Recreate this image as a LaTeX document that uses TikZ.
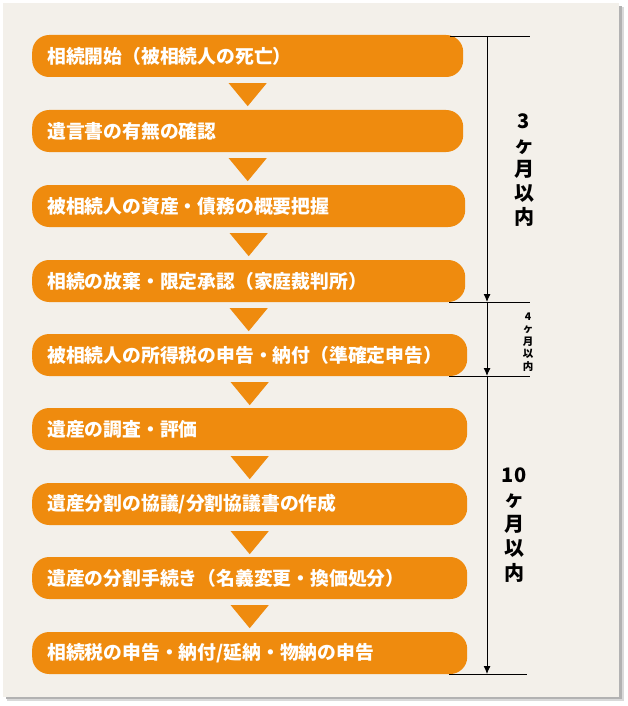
\documentclass[tikz,border=0pt]{standalone}
\usepackage{fontspec}
\newfontfamily\jp{Noto Sans CJK JP}
\usetikzlibrary{arrows.meta,calc}
\definecolor{orangebox}{HTML}{EF8B0E}
\definecolor{paper}{HTML}{F3F0EA}
\tikzset{
  flowbox/.style={fill=orangebox, rounded corners=17pt, minimum height=42pt,
    anchor=west, inner xsep=15pt, inner ysep=0pt, align=left, text=white,
    font=\jp\bfseries\fontsize{18.8pt}{20pt}\selectfont},
  flowarrow/.style={fill=orangebox},
  dimline/.style={draw=black, line width=0.9pt},
  dimarrow/.style={dimline, -{Latex[length=8pt,width=7pt]}},
  dimlabel/.style={align=center, text=black, inner sep=0pt},
}
\newcommand{\flowtri}[2]{%
  \fill[flowarrow] ($(#1.south)+(-19pt,-6pt)$) -- ($(#1.south)+(19pt,-6pt)$)
     -- ($(#1.south)+(0pt,-29pt)$) -- cycle;}
\begin{document}
\begin{tikzpicture}[x=1pt,y=-1pt]
  \useasboundingbox (0,0) rectangle (628,706);
  \fill[white] (0,0) rectangle (628,706);
  % paper with shadow
  \fill[black!15] (7,7) rectangle (624,701);
  \fill[black!30] (6,6) rectangle (622,699);
  \fill[paper] (3,3) rectangle (619,697);

  % boxes
  \node[flowbox, text width=401pt] (b1) at (32,56)  {相続開始（被相続人の死亡）};
  \node[flowbox, text width=401pt] (b2) at (32,131) {遺言書の有無の確認};
  \node[flowbox, text width=403pt] (b3) at (32,206) {被相続人の資産・債務の概要把握};
  \node[flowbox, text width=403pt] (b4) at (32,281) {相続の放棄・限定承認（家庭裁判所）};
  \node[flowbox, text width=405pt] (b5) at (32,355) {被相続人の所得税の申告・納付（準確定申告）};
  \node[flowbox, text width=405pt] (b6) at (32,429) {遺産の調査・評価};
  \node[flowbox, text width=405pt] (b7) at (32,504) {遺産分割の協議/分割協議書の作成};
  \node[flowbox, text width=405pt] (b8) at (32,578) {遺産の分割手続き（名義変更・換価処分）};
  \node[flowbox, text width=405pt] (b9) at (32,653) {相続税の申告・納付/延納・物納の申告};

  % triangles
  \flowtri{b1}{b2}
  \flowtri{b2}{b3}
  \flowtri{b3}{b4}
  \flowtri{b4}{b5}
  \flowtri{b5}{b6}
  \flowtri{b6}{b7}
  \flowtri{b7}{b8}
  \flowtri{b8}{b9}

  % dimension lines
  \coordinate (t0) at (487,36);
  \coordinate (t1) at (487,302);
  \coordinate (t2) at (487,376);
  \coordinate (t3) at (487,674);
  \coordinate (h0l) at (450,36);  \coordinate (h0r) at (530,36);
  \coordinate (h1l) at (449,302); \coordinate (h1r) at (530,302);
  \coordinate (h2l) at (449,376); \coordinate (h2r) at (530,376);
  \coordinate (h3l) at (449,674); \coordinate (h3r) at (527,674);
  \draw[dimline] (h0l) -- (h0r);
  \draw[dimline] (h1l) -- (h1r);
  \draw[dimline] (h2l) -- (h2r);
  \draw[dimline] (h3l) -- (h3r);
  \draw[dimarrow] (t0) -- (t1);
  \draw[dimarrow] (t1) -- (t2);
  \draw[dimarrow] (t2) -- (t3);

  % labels
  \node[dimlabel, font=\jp\bfseries\fontsize{20pt}{24pt}\selectfont] (l1) at (524,170)
    {3\\ヶ\\月\\以\\内};
  \node[dimlabel, font=\jp\bfseries\fontsize{10.5pt}{12.5pt}\selectfont] (l2) at (528,342)
    {4\\ヶ\\月\\以\\内};
  \node[dimlabel, font=\jp\bfseries\fontsize{20pt}{24.5pt}\selectfont] (l3) at (514,525)
    {10\\ヶ\\月\\以\\内};
\end{tikzpicture}
\end{document}
